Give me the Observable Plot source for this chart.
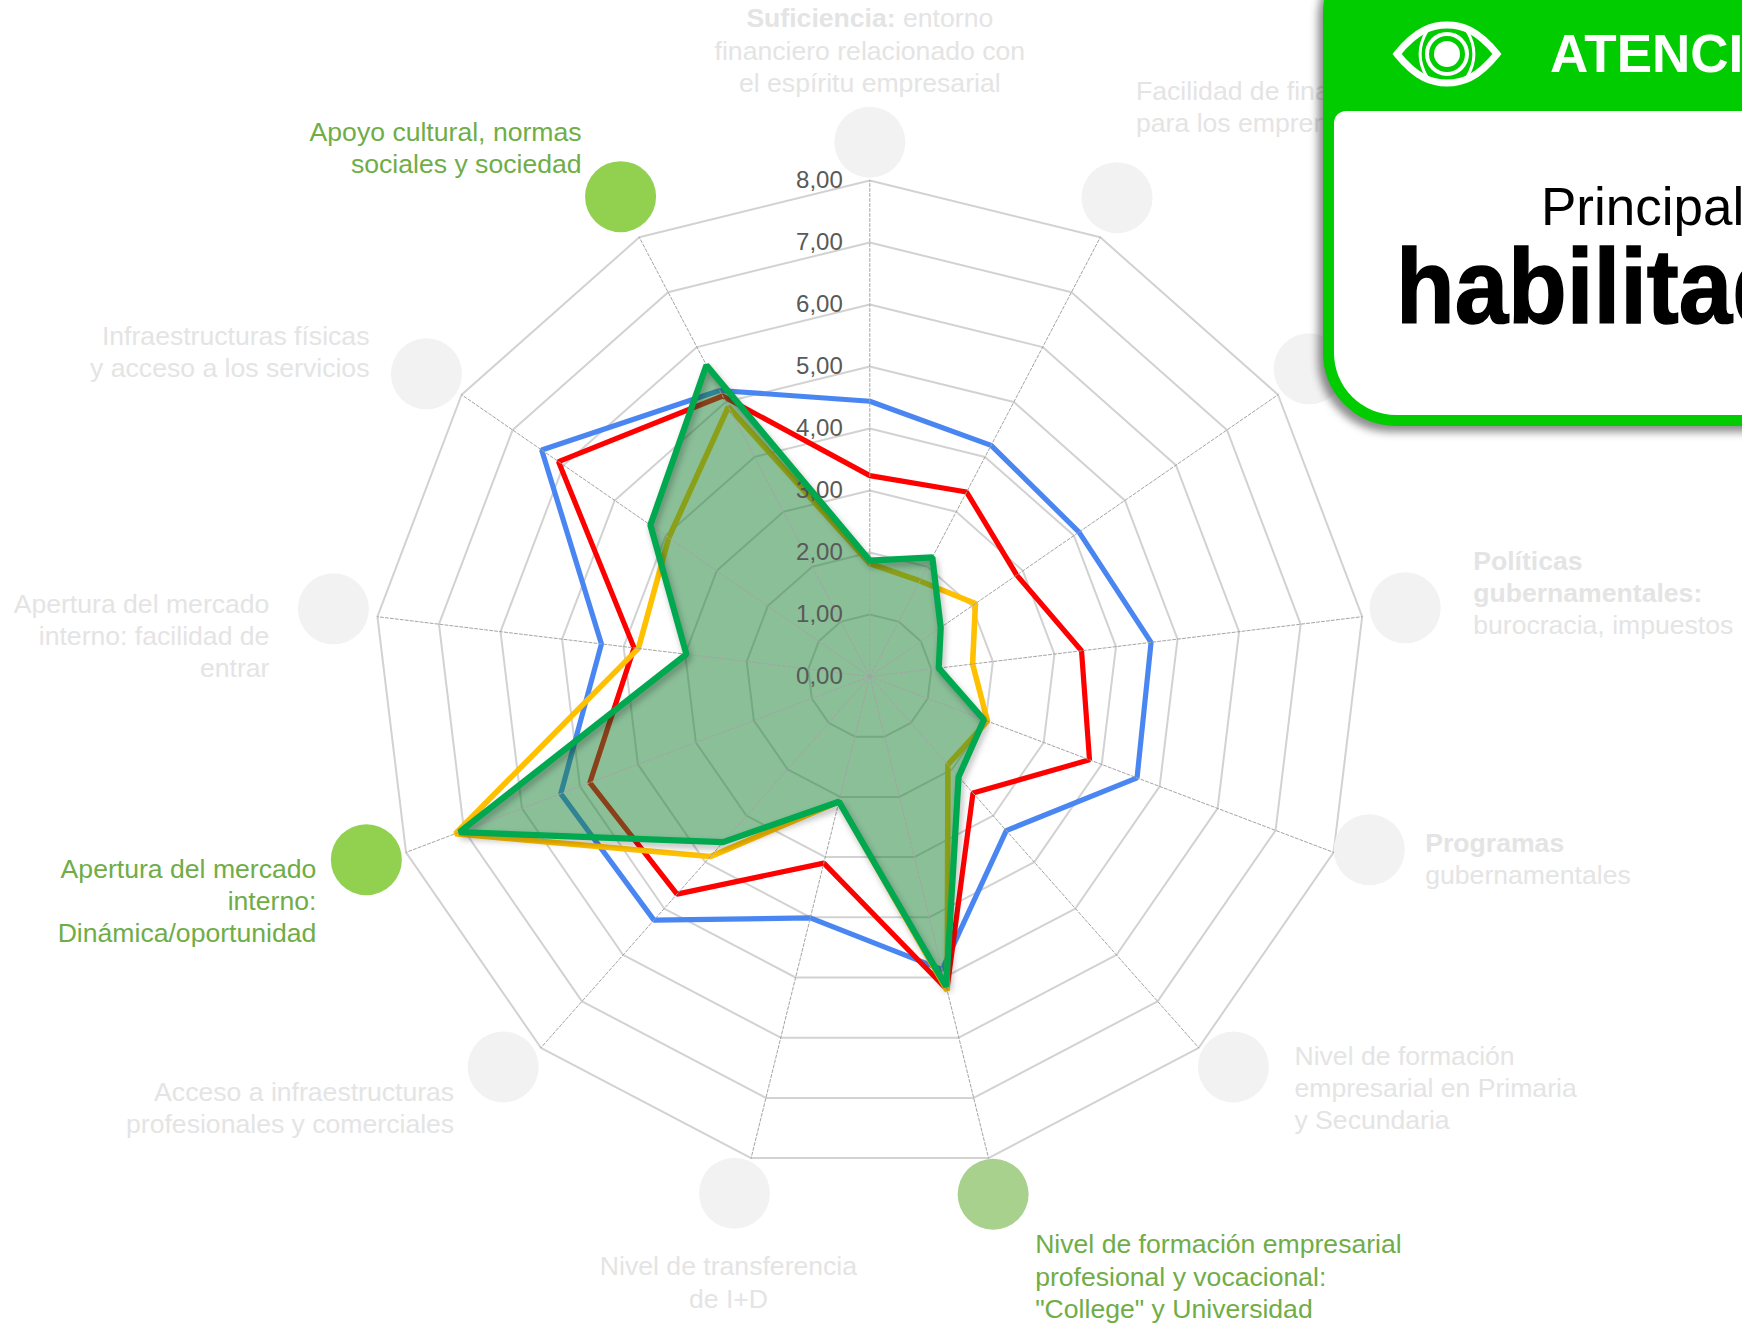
<!DOCTYPE html>
<html lang="es">
<head>
<meta charset="utf-8">
<script src="https://cdn.jsdelivr.net/npm/d3@7"></script>
<script src="https://cdn.jsdelivr.net/npm/@observablehq/plot@0.6"></script>
<style>
html,body{margin:0;padding:0;background:#fff;width:1742px;height:1323px;overflow:hidden;font-family:"Liberation Sans",Arial,sans-serif}
#wrap{position:relative;width:1742px;height:1323px;overflow:hidden}
#wrap>svg{position:absolute;left:0;top:0;display:block}
#card{position:absolute;left:1323px;top:-60px;width:520px;height:486px;background:#00cc00;border-radius:73px;box-shadow:-5px 6px 8px rgba(0,0,0,.45)}
#card .inner{position:absolute;left:11px;top:171px;right:0;bottom:11px;background:#fff;border-radius:12px 0 0 62px}
#overlay{position:absolute;left:0;top:0;width:1742px;height:1323px;pointer-events:none;overflow:hidden}
</style>
</head>
<body>
<div id="wrap"></div>
<script>
// ---- data ----
const axes = [
  "Suficiencia: entorno\nfinanciero relacionado con\nel espíritu empresarial",
  "Facilidad de financiación\npara los emprendedores",
  "",
  "Políticas\ngubernamentales:\nburocracia, impuestos",
  "Programas\ngubernamentales",
  "Nivel de formación\nempresarial en Primaria\ny Secundaria",
  "Nivel de formación empresarial\nprofesional y vocacional:\n\"College\" y Universidad",
  "Nivel de transferencia\nde I+D",
  "Acceso a infraestructuras\nprofesionales y comerciales",
  "Apertura del mercado\ninterno:\nDinámica/oportunidad",
  "Apertura del mercado\ninterno: facilidad de\nentrar",
  "Infraestructuras físicas\ny acceso a los servicios",
  "Apoyo cultural, normas\nsociales y sociedad"
];
const blue   = [4.44, 4.21, 4.10, 4.57, 4.61, 3.32, 4.87, 4.01, 5.25, 5.33, 4.36, 6.43, 5.21];
const red    = [3.24, 3.36, 2.88, 3.44, 3.79, 2.51, 5.20, 3.10, 4.69, 4.83, 3.83, 6.10, 5.11];
const yellow = [1.82, 1.74, 2.07, 1.67, 2.03, 1.90, 5.22, 2.08, 3.88, 7.15, 3.76, 3.94, 4.91];
const green  = [1.87, 2.17, 1.39, 1.12, 1.97, 2.16, 5.15, 2.08, 3.57, 7.08, 2.98, 4.30, 5.67];
const levels = [0, 1, 2, 3, 4, 5, 6, 7, 8];
const tickLabels = ["0,00","1,00","2,00","3,00","4,00","5,00","6,00","7,00","8,00"];
const highlighted = [6, 9, 12];

// ---- styles and layout ----
const FONT = '"Liberation Sans", Arial, sans-serif';
const W = 1742, H = 1323, cx = 869.3, cy = 676, unit = 62;
const colors = {blue:"#4a86f2", red:"#ff0000", yellow:"#ffc000", green:"#00a84f", fill:"#157f31"};
const labelLayout = [
  ["middle",   0, -91], ["start",  19, -92], ["start",  0,  0], ["start",  68, -16],
  ["start",   56,   8], ["start",  61,  20], ["start", 42,  81], ["middle", -6,  88],
  ["end",    -49,  40], ["end",   -50,  40], ["end",  -64,  26], ["end",   -57, -23],
  ["end",    -39, -50]
];
// the discs sit a little off the spokes in the reference
const dotNudge = [[0,2],[-2,-4],[-2,-3],[3,-4],[-2,-17],[8,-11],[-5,-3],[-7,-4],[-11,-11],[-2,-7],[-4,-3],[-2,2],[0,-5]];
const circleRadius = 8.65;
const dotFill = i => i === 6 ? "#a9d18e" : i === 9 || i === 12 ? "#92d050" : "#f2f2f2";

// polar → chart units
const n = axes.length;
const polar = (i, v) => {
  const a = 2 * Math.PI * i / n;
  return {x: v * Math.sin(a), y: v * Math.cos(a), i, v};
};
const ring = values => values.map((v, i) => polar(i, v));
const closedLine = (values, stroke, strokeWidth, extra = {}) =>
  Plot.line(ring(values), {x: "x", y: "y", curve: "linear-closed", stroke, strokeWidth, strokeLinejoin: "miter", ...extra});

const gridRings = levels.slice(1).map(l => closedLine(axes.map(() => l), "#d2d2d2", 2));
const spokeRows = axes.flatMap((_, i) => [polar(i, 0), polar(i, 8)]);
const spokes = Plot.line(spokeRows, {x: "x", y: "y", z: "i", stroke: "#a4a4a4", strokeWidth: 1, strokeDasharray: "3,2"});

const dots = axes.map((_, i) => Plot.dot([polar(i, circleRadius)], {
  x: "x", y: "y", r: 35.5, fill: dotFill(i), stroke: null, dx: dotNudge[i][0], dy: dotNudge[i][1]
}));

const labels = axes.map((t, i) => {
  const [textAnchor, dx, dy] = labelLayout[i];
  return Plot.text([polar(i, circleRadius)], {
    x: "x", y: "y", text: () => t, textAnchor,
    dx: dx + dotNudge[i][0], dy: dy + dotNudge[i][1] - (i === 0 ? 2 : 0),
    lineAnchor: "middle", lineHeight: 1.21,
    fontSize: 26.6, fontFamily: FONT,
    fill: highlighted.includes(i) ? "#70ad47" : "#e4e4e4"
  });
});

const ticks = Plot.text(levels.map(l => ({y: l, t: tickLabels[l]})), {
  x: () => 0, y: "y", text: "t", textAnchor: "end", dx: -27, fontSize: 24,
  fontFamily: FONT, fill: "#595959"
});

const plot = Plot.plot({
  width: W, height: H, margin: 0,
  x: {domain: [-cx / unit, (W - cx) / unit], axis: null},
  y: {domain: [(cy - H) / unit, cy / unit], axis: null},
  style: {background: "transparent", overflow: "visible"},
  marks: [
    ...gridRings,
    ...dots,
    ...labels,
    closedLine(blue, colors.blue, 5.2),
    closedLine(red, colors.red, 5.2),
    closedLine(yellow, colors.yellow, 5.6),
    Plot.line(ring(green), {x: "x", y: "y", curve: "linear-closed", fill: colors.fill, fillOpacity: 0.5, stroke: "none"}),
    spokes,
    ticks,
    closedLine(green, colors.green, 6.2, {imageFilter: "drop-shadow(2px 4px 3px rgba(0,0,0,.28))"})
  ]
});

// bold lead-ins inside the multi-line labels
const bolds = {"Suficiencia: entorno": "Suficiencia:", "Políticas": "Políticas", "gubernamentales:": "gubernamentales:", "Programas": "Programas"};
plot.querySelectorAll("tspan").forEach(s => {
  const b = bolds[s.textContent];
  if (!b) return;
  const rest = s.textContent.slice(b.length);
  s.textContent = "";
  const t = document.createElementNS("http://www.w3.org/2000/svg", "tspan");
  t.setAttribute("font-weight", "bold");
  t.textContent = b;
  s.appendChild(t);
  if (rest) s.appendChild(document.createTextNode(rest));
});

const wrap = document.getElementById("wrap");
wrap.appendChild(plot);

// attention card that overlaps the chart
const card = document.createElement("div");
card.id = "card";
card.innerHTML = '<div class="inner"></div>';
wrap.appendChild(card);
const ov = document.createElement("div");
ov.id = "overlay";
ov.innerHTML = `<svg width="${W}" height="${H}" xmlns="http://www.w3.org/2000/svg" style="font-family:${FONT.replace(/"/g,"'")}">
  <g transform="translate(1447,54)" fill="none" stroke="#fff">
    <path d="M-50 0 C-30 -25 -14 -29 0 -29 C14 -29 30 -25 50 0 C30 25 14 29 0 29 C-14 29 -30 25 -50 0 Z" stroke-width="7"/>
    <circle r="13" fill="#fff" stroke="none"/>
    <circle r="20" stroke-width="4"/>
    <path d="M-20 -23 C-29 -8 -29 8 -20 23 M20 -23 C29 -8 29 8 20 23" stroke-width="3"/>
  </g>
  <text x="1550" y="72" fill="#fff" font-weight="bold" font-size="53">ATENCIÓN</text>
  <text x="1541" y="225" fill="#000" font-size="53">Principales</text>
  <text transform="translate(1396,323) scale(.915,1)" fill="#000" stroke="#000" stroke-width="1.5" font-weight="bold" font-size="105">habilitadores</text>
</svg>`;
wrap.appendChild(ov);
</script>
</body>
</html>
